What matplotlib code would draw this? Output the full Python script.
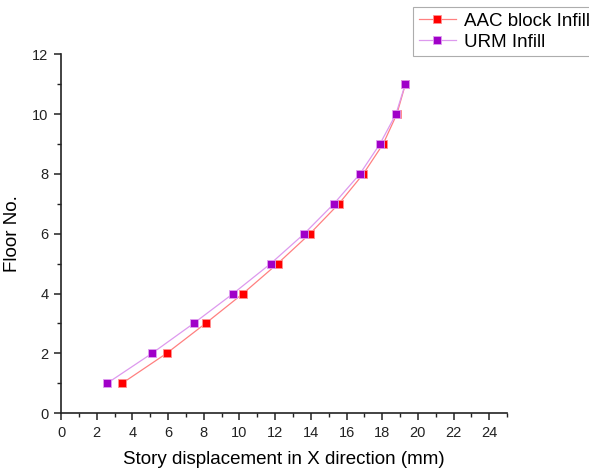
import matplotlib
matplotlib.use("Agg")
import matplotlib.pyplot as plt
from matplotlib.ticker import MultipleLocator

plt.rcParams['font.family'] = ['Liberation Sans', 'DejaVu Sans']

floors = [1, 2, 3, 4, 5, 6, 7, 8, 9, 10, 11]
aac_disp = [3.43, 5.92, 8.10, 10.20, 12.14, 13.95, 15.57, 16.94, 18.05, 18.82, 19.30]
urm_disp = [2.59, 5.10, 7.43, 9.65, 11.75, 13.63, 15.29, 16.75, 17.87, 18.77, 19.29]
labels = ["AAC block Infill", "URM Infill"]

fig = plt.figure(figsize=(5.89, 4.70), dpi=100)
ax = fig.add_axes([0.1036, 0.121, 0.7574, 0.7635])

ax.plot(aac_disp, floors, color='#ff8080', lw=0.9, marker='s', ms=6,
        mfc='#ff0000', mec='#ff9090', mew=0.6, label=labels[0], zorder=3)
ax.plot(urm_disp, floors, color='#dd99ee', lw=0.9, marker='s', ms=6,
        mfc='#a000c8', mec='#e0a0f0', mew=0.6, label=labels[1], zorder=4)

ax.set_xlim(0, 25)
ax.set_ylim(0, 12)
ax.xaxis.set_major_locator(MultipleLocator(2))
ax.xaxis.set_minor_locator(MultipleLocator(1))
ax.yaxis.set_major_locator(MultipleLocator(2))
ax.yaxis.set_minor_locator(MultipleLocator(1))
for s in ['top', 'right']:
    ax.spines[s].set_visible(False)
for s in ['left', 'bottom']:
    ax.spines[s].set_linewidth(1.2)
    ax.spines[s].set_color('#222222')
ax.tick_params(which='major', direction='out', length=5, width=1.1, labelsize=10.5,
               colors='#222222', pad=4)
ax.tick_params(which='minor', direction='out', length=3, width=1.0, colors='#222222')

ax.set_xlabel("Story displacement in X direction (mm)", fontsize=13.5, labelpad=8)
ax.set_ylabel("Floor No.", fontsize=13.5, labelpad=8)

leg = fig.legend(loc='upper left', bbox_to_anchor=(413/589, 1 - 7/470), fontsize=13.5,
                 frameon=True, fancybox=False, edgecolor='#999999', borderpad=0.3,
                 handlelength=2.0, handletextpad=0.4, labelspacing=0.2, borderaxespad=0)
leg.get_frame().set_linewidth(0.8)

fig.savefig("out.png", dpi=100)
